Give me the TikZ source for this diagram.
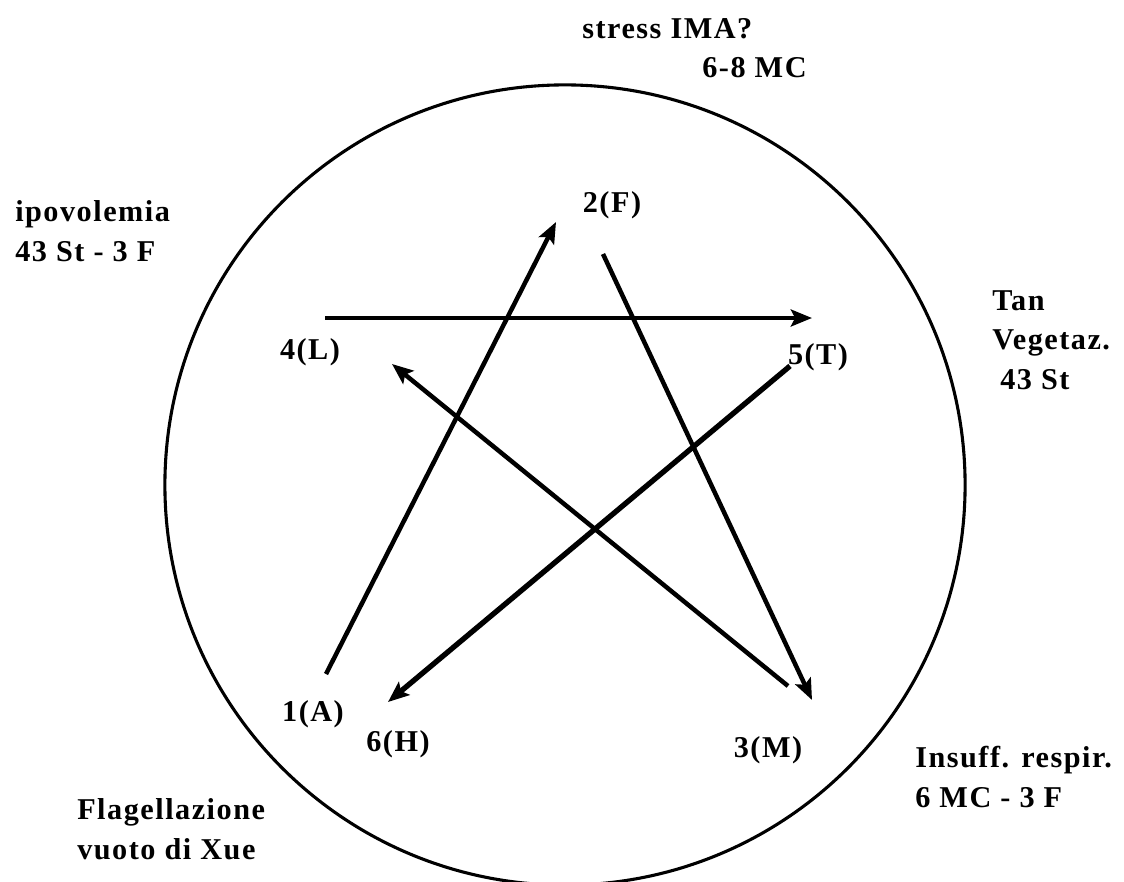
\documentclass[tikz,border=0pt]{standalone}
\usepackage{fontspec}
\setmainfont{Liberation Serif}[LetterSpace=5]
\usetikzlibrary{arrows.meta}

\begin{document}
\begin{tikzpicture}[x=0.025cm, y=-0.025cm,
  every node/.style={font=\bfseries\fontsize{21.5}{28}\selectfont, inner sep=0pt},
  pentarrow/.style={line width=3.2pt, -{Stealth[length=15pt, width=12pt, inset=3pt]}}]
  \useasboundingbox (0,0) rectangle (1124,881);
  % Circle
  \draw[line width=2.2pt] (565,485) circle [radius=10cm];
  % Outer notes
  \node[anchor=west, align=left] (stress) at (582,48) {stress IMA?\\\hspace*{3.0cm}6-8 MC};
  \node[anchor=west, align=left] (ipo) at (15,231) {ipovolemia\\43 St - 3 F};
  \node[anchor=west, align=left] (tan) at (992,340) {Tan\\Vegetaz.\\\hspace*{0.2cm}43 St};
  \node[anchor=west, align=left] (insuff) at (915,777) {Insuff. respir.\\6 MC - 3 F};
  \node[anchor=west, align=left] (flag) at (77,829) {Flagellazione\\vuoto di Xue};
  % Star labels
  \node (n1) at (313,714) {1(A)};
  \node (n2) at (612,205) {2(F)};
  \node (n3) at (768,750) {3(M)};
  \node (n4) at (310,352) {4(L)};
  \node (n5) at (818,357) {5(T)};
  \node (n6) at (398,744) {6(H)};
  % Arrow ends
  \coordinate (a1s) at (326,674);
  \coordinate (a1e) at (556,222);
  \coordinate (a2s) at (603,254);
  \coordinate (a2e) at (812,700);
  \coordinate (a3s) at (788,686);
  \coordinate (a3e) at (392,364);
  \coordinate (a4s) at (325,318);
  \coordinate (a4e) at (812,318);
  \coordinate (a5s) at (790,366);
  \coordinate (a5e) at (388,702);
  % Star arrows
  \draw[pentarrow] (a1s) -- (a1e);
  \draw[pentarrow] (a2s) -- (a2e);
  \draw[pentarrow] (a3s) -- (a3e);
  \draw[pentarrow] (a4s) -- (a4e);
  \draw[pentarrow, line width=3.8pt] (a5s) -- (a5e);
\end{tikzpicture}
\end{document}
